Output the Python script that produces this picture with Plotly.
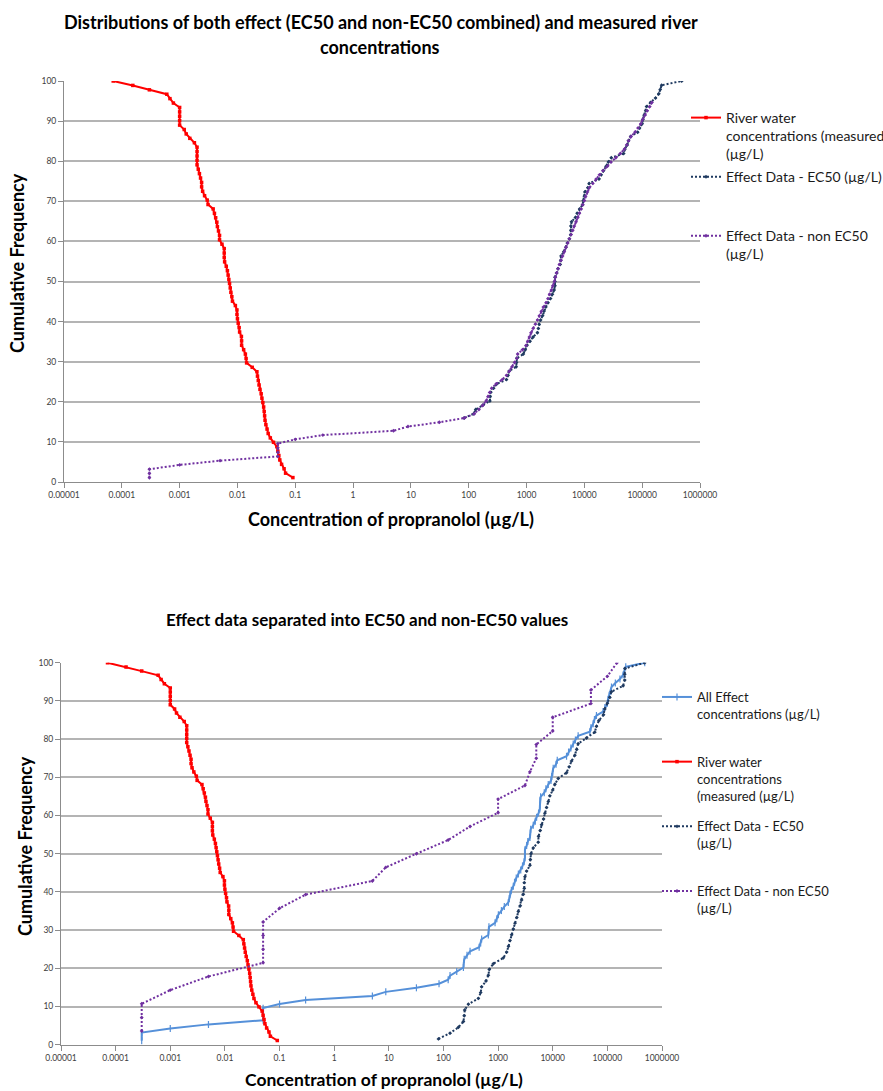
import plotly.graph_objects as go

# ---------------------------------------------------------------
# Data: concentrations of propranolol (ug/L) and cumulative frequency (%)
# ---------------------------------------------------------------

# Measured river water concentrations (ranked from highest)
river_cf = [1.1, 2.2, 3.3, 4.4, 5.5, 6.6, 7.7, 8.8, 9.9, 11.0,
            12.1, 13.2, 14.3, 15.4, 16.5, 17.6, 18.7, 19.8, 20.9, 22.0,
            23.1, 24.2, 25.3, 26.4, 27.5, 28.6, 29.7, 30.8, 31.9, 33.0,
            34.1, 35.2, 36.3, 37.4, 38.5, 39.6, 40.7, 41.8, 42.9, 44.0,
            45.1, 46.2, 47.3, 48.4, 49.5, 50.5, 51.6, 52.7, 53.8, 54.9,
            56.0, 57.1, 58.2, 59.3, 60.4, 61.5, 62.6, 63.7, 64.8, 65.9,
            67.0, 68.1, 69.2, 70.3, 71.4, 72.5, 73.6, 74.7, 75.8, 76.9,
            78.0, 79.1, 80.2, 81.3, 82.4, 83.5, 84.6, 85.7, 86.8, 87.9,
            89.0, 90.1, 91.2, 92.3, 93.4, 94.5, 95.6, 96.7, 97.8, 98.9,
            100.0]
river_conc = [0.091, 0.068, 0.064, 0.058, 0.054, 0.052, 0.050, 0.048, 0.042, 0.037,
              0.034, 0.0325, 0.031, 0.030, 0.0295, 0.029, 0.0284, 0.0275, 0.0265, 0.0257,
              0.0245, 0.0236, 0.0229, 0.0222, 0.0217, 0.018, 0.0144, 0.0141, 0.0137, 0.0128,
              0.0118, 0.0118, 0.0117, 0.0109, 0.0107, 0.0103, 0.0100, 0.0098, 0.0098, 0.0092,
              0.0082, 0.0080, 0.0077, 0.0075, 0.0073, 0.0071, 0.0069, 0.0067, 0.0064, 0.0060,
              0.0059, 0.0059, 0.0059, 0.0054, 0.0049, 0.0049, 0.0047, 0.0045, 0.0044, 0.0042,
              0.0040, 0.0038, 0.0031, 0.0030, 0.0027, 0.0025, 0.0024, 0.0024, 0.0023, 0.0022,
              0.0021, 0.0020, 0.0020, 0.0020, 0.0020, 0.0020, 0.0018, 0.0015, 0.0013, 0.0012,
              0.0010, 0.0010, 0.0010, 0.0010, 0.0010, 0.00078, 0.00068, 0.00060, 0.00030, 0.000155,
              0.000071]

# All effect concentrations (EC50 and non-EC50 together)
all_cf = [1.06, 2.13, 3.19, 4.26, 5.32, 6.38, 7.45, 8.51, 9.57, 10.64,
          11.70, 12.77, 13.83, 14.89, 15.96, 17.02, 18.09, 19.15, 20.21, 21.28,
          22.34, 23.40, 24.47, 25.53, 26.60, 27.66, 28.72, 29.79, 30.85, 31.91,
          32.98, 34.04, 35.11, 36.17, 37.23, 38.30, 39.36, 40.43, 41.49, 42.55,
          43.62, 44.68, 45.74, 46.81, 47.87, 48.94, 50.00, 51.06, 52.13, 53.19,
          54.26, 55.32, 56.38, 57.45, 58.51, 59.57, 60.64, 61.70, 62.77, 63.83,
          64.89, 65.96, 67.02, 68.09, 69.15, 70.21, 71.28, 72.34, 73.40, 74.47,
          75.53, 76.60, 77.66, 78.72, 79.79, 80.85, 81.91, 82.98, 84.04, 85.11,
          86.17, 87.23, 88.30, 89.36, 90.43, 91.49, 92.55, 93.62, 94.68, 95.74,
          96.81, 97.87, 98.94, 100.0]
all_conc = [0.0003, 0.0003, 0.0003, 0.001, 0.005, 0.05, 0.05, 0.05, 0.05, 0.1,
            0.3, 5, 8.8, 32, 83, 122, 132, 175, 232, 235,
            240, 270, 307, 450, 480, 500, 663, 670, 680, 880,
            950, 1012, 1150, 1300, 1540, 1600, 1650, 1750, 1900, 2000,
            2150, 2350, 2600, 2800, 3000, 3100, 3100, 3100, 3330, 3500,
            3830, 3900, 3950, 4400, 4800, 5070, 5500, 5800, 5840, 5840,
            6000, 7000, 7500, 8280, 9300, 9600, 10000, 10200, 11500, 12100,
            17900, 19500, 21500, 23700, 26000, 29200, 47800, 50000, 55000, 58000,
            63100, 83600, 90000, 100000, 103000, 108000, 115000, 119000, 140000, 170000,
            194000, 205000, 217000, 483000]

# Upper chart: effect series plotted from 80 ug/L upward
upper_ec50_conc = all_conc[14:]
upper_ec50_cf = all_cf[14:]

# Upper chart: second effect series
upper_non_cf = all_cf[:89]
upper_non_conc = [0.0003, 0.0003, 0.0003, 0.001, 0.005, 0.05, 0.05, 0.05, 0.05, 0.1,
                  0.3, 5, 8.9, 31, 84, 125, 150, 175, 200, 215,
                  230, 250, 297, 380, 450, 505, 560, 620, 680, 703,
                  850, 980, 1050, 1120, 1196, 1300, 1420, 1550, 1668, 1800,
                  1950, 2175, 2350, 2500, 2700, 2850, 3030, 3150, 3300, 3500,
                  3700, 3950, 4200, 4500, 4800, 5150, 5500, 5900, 6300, 6700,
                  7180, 7700, 8200, 8800, 9400, 10000, 10500, 11300, 12200, 14000,
                  16000, 18200, 21000, 25000, 28900, 35000, 42000, 49200, 54000, 58000,
                  64100, 75000, 85000, 95000, 102000, 112000, 122000, 135000, 148000]

# EC50 effect data
ec50_cf = [1.52, 3.03, 4.55, 6.06, 7.58, 9.09, 10.61, 12.12, 13.64, 15.15,
           16.67, 18.18, 19.70, 21.21, 22.73, 24.24, 25.76, 27.27, 28.79, 30.30,
           31.82, 33.33, 34.85, 36.36, 37.88, 39.39, 40.91, 42.42, 43.94, 45.45,
           46.97, 48.48, 50.00, 51.52, 53.03, 54.55, 56.06, 57.58, 59.09, 60.61,
           62.12, 63.64, 65.15, 66.67, 68.18, 69.70, 71.21, 72.73, 74.24, 75.76,
           77.27, 78.79, 80.30, 81.82, 83.33, 84.85, 86.36, 87.88, 89.39, 90.91,
           92.42, 93.94, 95.45, 96.97, 98.48, 100.0]
ec50_conc = [81, 132, 188, 232, 240, 245, 286, 435, 480, 500,
             600, 663, 690, 818, 1248, 1436, 1550, 1650, 1770, 1900,
             2040, 2200, 2345, 2550, 2694, 2900, 3015, 3015, 3100, 3330,
             3830, 3900, 4000, 4400, 5430, 5500, 5900, 6250, 6800, 7190,
             7710, 8300, 8870, 10000, 10960, 12600, 17900, 20000, 22100, 25400,
             27500, 29200, 41500, 58900, 63100, 70000, 85000, 89700, 100000, 111000,
             119000, 194000, 208000, 208000, 210000, 483000]

# Non-EC50 effect data
non_cf = [3.57, 7.14, 10.71, 14.29, 17.86, 21.43, 25.00, 28.57, 32.14, 35.71,
          39.29, 42.86, 46.43, 50.00, 53.57, 57.14, 60.71, 64.29, 67.86, 71.43,
          75.00, 78.57, 82.14, 85.71, 89.29, 92.86, 96.43, 100.0]
non_conc = [0.0003, 0.0003, 0.0003, 0.001, 0.005, 0.05, 0.05, 0.05, 0.05, 0.1,
            0.3, 5, 8.8, 32, 122, 307, 1000, 1000, 3100, 3830,
            5000, 5000, 10000, 10000, 50000, 50000, 100000, 150000]

# Axis ticks
x_tickvals = [1e-5, 1e-4, 1e-3, 1e-2, 1e-1, 1, 10, 100, 1e3, 1e4, 1e5, 1e6]
x_ticktext = ["0.00001", "0.0001", "0.001", "0.01", "0.1", "1", "10", "100",
              "1000", "10000", "100000", "1000000"]
y_tickvals = [0, 10, 20, 30, 40, 50, 60, 70, 80, 90, 100]

# ---------------------------------------------------------------
# Styling
# ---------------------------------------------------------------
W, H = 883, 1091
FONT = "Lato"
RED = "#FF0000"
NAVY = "#1F3A60"
PURPLE = "#7030A0"
BLUE = "#5590D9"
GRID = "#B4B4B4"
AXIS = "#8C8C8C"
DOT = "2px,2px"
PAD = "<br>\u00a0"


def px(xp):
    return xp / W


def py(yp):
    return 1 - yp / H


river_style = dict(mode="lines+markers", line=dict(color=RED, width=2),
                   marker=dict(symbol="square", size=3.5, color=RED))
ec50_style = dict(mode="lines+markers", line=dict(color=NAVY, width=2, dash=DOT),
                  marker=dict(symbol="diamond", size=3, color=NAVY))
non_style = dict(mode="lines+markers", line=dict(color=PURPLE, width=2, dash=DOT),
                 marker=dict(symbol="diamond", size=3, color=PURPLE))
all_style = dict(mode="lines+markers", line=dict(color=BLUE, width=2),
                 marker=dict(symbol="line-ns-open", size=5,
                             line=dict(color=BLUE, width=1.2)))

fig = go.Figure()

# Upper chart
fig.add_trace(go.Scatter(x=river_conc, y=river_cf, xaxis="x", yaxis="y",
                         name="River water<br>concentrations (measured<br>(µg/L)",
                         legend="legend", legendgroup="u1", **river_style))
fig.add_trace(go.Scatter(x=upper_ec50_conc, y=upper_ec50_cf, xaxis="x", yaxis="y",
                         name="Effect Data - EC50 (µg/L)" + PAD + PAD,
                         legend="legend", legendgroup="u2", **ec50_style))
fig.add_trace(go.Scatter(x=upper_non_conc, y=upper_non_cf, xaxis="x", yaxis="y",
                         name="Effect Data - non EC50<br>(µg/L)" + PAD,
                         legend="legend", legendgroup="u3", **non_style))

# Lower chart
fig.add_trace(go.Scatter(x=all_conc, y=all_cf, xaxis="x2", yaxis="y2",
                         name="All Effect<br>concentrations (µg/L)" + PAD,
                         legend="legend2", legendgroup="l1", **all_style))
fig.add_trace(go.Scatter(x=river_conc, y=river_cf, xaxis="x2", yaxis="y2",
                         name="River water<br>concentrations<br>(measured (µg/L)",
                         legend="legend2", legendgroup="l2", **river_style))
fig.add_trace(go.Scatter(x=ec50_conc, y=ec50_cf, xaxis="x2", yaxis="y2",
                         name="Effect Data - EC50<br>(µg/L)" + PAD,
                         legend="legend2", legendgroup="l3", **ec50_style))
fig.add_trace(go.Scatter(x=non_conc, y=non_cf, xaxis="x2", yaxis="y2",
                         name="Effect Data - non EC50<br>(µg/L)" + PAD,
                         legend="legend2", legendgroup="l4", **non_style))

tickfont = dict(family=FONT, size=8.5, color="#404040")
xaxis_common = dict(type="log", range=[-5, 6], tickvals=x_tickvals, ticktext=x_ticktext,
                    showgrid=False, zeroline=False, showline=True, linecolor=AXIS,
                    linewidth=1, ticks="outside", ticklen=5, tickcolor=AXIS,
                    tickfont=tickfont)
yaxis_common = dict(range=[0, 100], tickvals=y_tickvals, showgrid=True, gridcolor=GRID,
                    gridwidth=1.5, zeroline=False, showline=True, linecolor=AXIS,
                    linewidth=1, ticks="outside", ticklen=5, tickcolor=AXIS,
                    tickfont=tickfont)

legend_common = dict(xanchor="left", yanchor="top", valign="top",
                     traceorder="grouped", bgcolor="rgba(0,0,0,0)", borderwidth=0,
                     itemwidth=30)

fig.update_layout(
    width=W, height=H,
    margin=dict(l=0, r=0, t=0, b=0, autoexpand=False),
    paper_bgcolor="white", plot_bgcolor="white",
    font=dict(family=FONT, color="#000000"),
    xaxis=dict(domain=[px(64), px(700)], anchor="y", **xaxis_common),
    yaxis=dict(domain=[py(482), py(81)], anchor="x", **yaxis_common),
    xaxis2=dict(domain=[px(61), px(662)], anchor="y2", **xaxis_common),
    yaxis2=dict(domain=[py(1044.7), py(662.7)], anchor="x2", **yaxis_common),
    legend=dict(x=px(686), y=py(102), font=dict(family=FONT, size=14, color="#1A1A1A"),
                tracegroupgap=1.5, **legend_common),
    legend2=dict(x=px(657), y=py(682), font=dict(family=FONT, size=13, color="#1A1A1A"),
                 tracegroupgap=11, **legend_common),
    showlegend=True,
)

title_font = dict(family=FONT, size=18, color="#000000")
axis_title_font = dict(family=FONT, size=18, color="#000000")
annotations = [
    dict(text="<b>Distributions of both effect (EC50 and non-EC50 combined) and measured river</b>",
         x=px(381), y=py(22), font=title_font),
    dict(text="<b>concentrations</b>", x=px(380), y=py(47), font=title_font),
    dict(text="<b>Cumulative Frequency</b>", x=px(17), y=py(263), textangle=-90,
         font=axis_title_font),
    dict(text="<b>Concentration of propranolol (µg/L)</b>", x=px(391), y=py(519),
         font=axis_title_font),
    dict(text="<b>Effect data separated into EC50 and non-EC50 values</b>",
         x=px(367), y=py(619), font=dict(family=FONT, size=17, color="#000000")),
    dict(text="<b>Cumulative Frequency</b>", x=px(25), y=py(846), textangle=-90,
         font=axis_title_font),
    dict(text="<b>Concentration of propranolol (µg/L)</b>", x=px(384), y=py(1079),
         font=dict(family=FONT, size=17.5, color="#000000")),
]
for a in annotations:
    fig.add_annotation(xref="paper", yref="paper", showarrow=False,
                       xanchor="center", yanchor="middle", **a)

fig.write_html("out.html")
